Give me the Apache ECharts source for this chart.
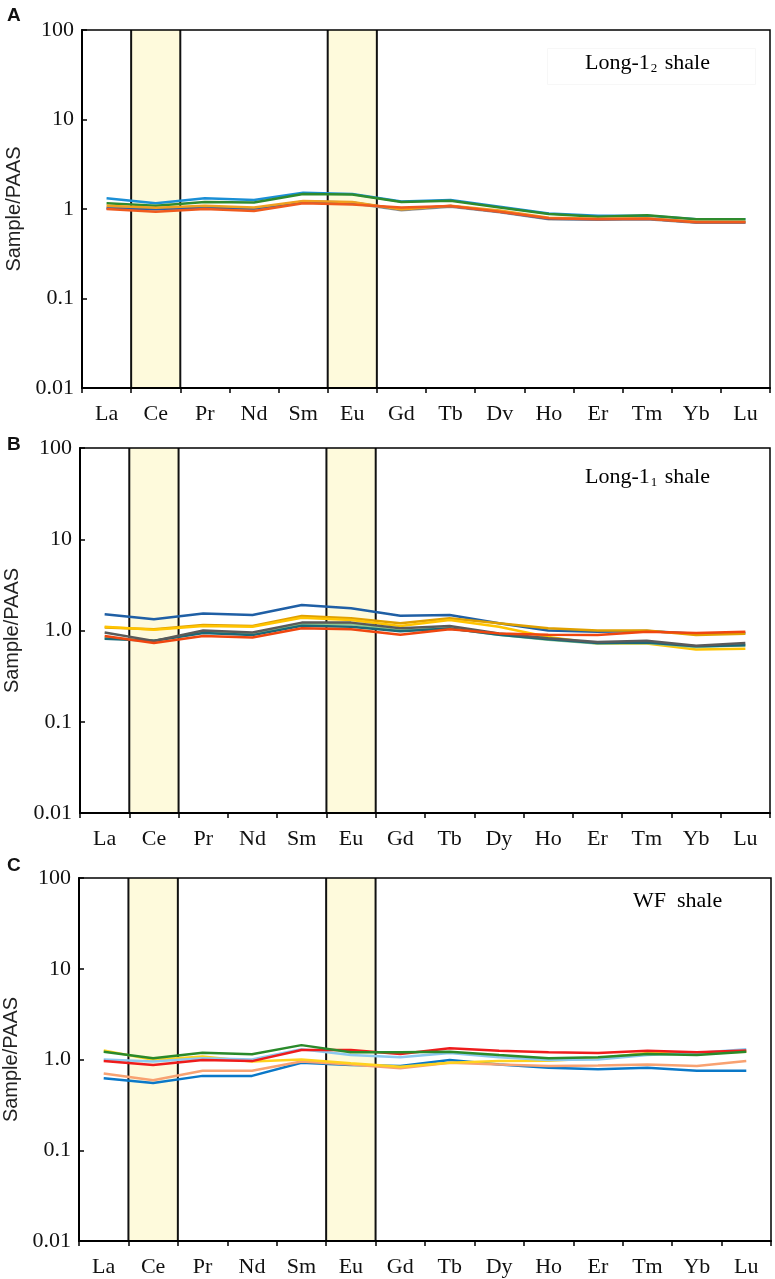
<!DOCTYPE html>
<html><head><meta charset="utf-8">
<script src="https://cdn.jsdelivr.net/npm/echarts@6/dist/echarts.min.js"></script>
<style>html,body{margin:0;padding:0;background:#fff}#c{width:775px;height:1279px}</style>
</head><body><div id="c"></div>
<script>
// ---- data ----
const catsA = ['La','Ce','Pr','Nd','Sm','Eu','Gd','Tb','Dv','Ho','Er','Tm','Yb','Lu'];
const catsBC = ['La','Ce','Pr','Nd','Sm','Eu','Gd','Tb','Dy','Ho','Er','Tm','Yb','Lu'];
const bandCats = ['Ce','Eu'];
const yTicksA = ['100','10','1','0.1','0.01'];
const yTicksBC = ['100','10','1.0','0.1','0.01'];

// Panel A (Long-1_2 shale)
const aLightBlue = [1.32,1.16,1.32,1.26,1.52,1.47,1.21,1.26,1.06,0.89,0.84,0.84,0.77,0.77];
const aGreen     = [1.16,1.09,1.20,1.18,1.47,1.45,1.20,1.24,1.04,0.88,0.82,0.85,0.77,0.77];
const aGray      = [1.03,0.99,1.03,1.00,1.18,1.16,0.97,1.06,0.92,0.77,0.76,0.77,0.70,0.70];
const aDarkBlue  = [1.01,1.00,1.04,1.01,1.21,1.18,0.99,1.08,0.93,0.78,0.77,0.78,0.71,0.71];
const aRed       = [1.00,0.93,1.00,0.95,1.16,1.12,1.04,1.08,0.93,0.79,0.77,0.78,0.71,0.71];
const aOrange    = [1.09,1.03,1.09,1.04,1.23,1.20,0.99,1.09,0.96,0.80,0.78,0.79,0.72,0.72];

// Panel B (Long-1_1 shale)
const bDarkBlue  = [1.51,1.33,1.54,1.48,1.90,1.75,1.45,1.48,1.20,1.00,0.97,0.99,0.92,0.94];
const bYellow    = [1.10,1.02,1.12,1.10,1.38,1.30,1.12,1.30,1.10,0.85,0.72,0.72,0.62,0.63];
const bGold      = [1.08,1.03,1.15,1.12,1.44,1.36,1.20,1.36,1.20,1.06,1.00,1.00,0.89,0.92];
const bLightGreen= [0.83,0.77,0.95,0.92,1.18,1.18,1.00,1.06,0.90,0.79,0.72,0.73,0.66,0.69];
const bTeal      = [0.81,0.77,0.94,0.89,1.13,1.10,0.98,1.05,0.90,0.80,0.73,0.74,0.67,0.69];
const bGray      = [0.95,0.77,1.00,0.95,1.22,1.22,1.06,1.12,0.93,0.82,0.75,0.77,0.68,0.73];
const bRed       = [0.87,0.73,0.87,0.84,1.06,1.03,0.90,1.03,0.93,0.90,0.89,0.97,0.94,0.97];

// Panel C (WF shale)
const cGreen     = [1.22,1.03,1.19,1.14,1.44,1.20,1.20,1.22,1.12,1.03,1.06,1.15,1.12,1.22];
const cLightBlue = [1.00,0.95,1.03,1.00,1.30,1.12,1.06,1.18,1.06,0.99,1.00,1.12,1.18,1.30];
const cRed       = [0.96,0.87,0.99,0.96,1.27,1.27,1.15,1.33,1.25,1.20,1.18,1.25,1.20,1.26];
const cYellow    = [1.26,0.99,1.08,0.95,1.00,0.91,0.83,0.92,0.96,0.97,1.03,1.18,1.18,1.22];
const cSalmon    = [0.70,0.59,0.75,0.75,0.95,0.88,0.80,0.92,0.88,0.85,0.86,0.88,0.85,0.96];
const cBlue      = [0.62,0.55,0.66,0.66,0.92,0.87,0.85,0.99,0.88,0.81,0.78,0.81,0.75,0.75];

const panelA = [[aLightBlue,'#1b8fd6'],[aGreen,'#2e8b2e'],[aGray,'#9a9a9a'],[aDarkBlue,'#2a5fa8'],[aOrange,'#f0a020'],[aRed,'#f05a1e']];
const panelB = [[bDarkBlue,'#1f5fa5'],[bGold,'#e0a000'],[bYellow,'#ffc400'],[bLightGreen,'#8fc98f'],[bTeal,'#1a6878'],[bGray,'#5a5a5a'],[bRed,'#f0460f']];
const panelC = [[cBlue,'#0a78c8'],[cSalmon,'#f8a272'],[cYellow,'#ffd21e'],[cLightBlue,'#8cc8f0'],[cRed,'#ee1c1c'],[cGreen,'#2a8a2a']];

// ---- chart ----
const serif = 'Liberation Serif';
const grids = [
  {left:82, top:30, right:5, height:358},
  {left:80, top:448, right:5, height:365},
  {left:79, top:878, right:4, height:363}
];
const nameGaps = [52, 51, 50];
const cats = [catsA, catsBC, catsBC];
const yTicks = [yTicksA, yTicksBC, yTicksBC];
const panels = [panelA, panelB, panelC];

const option = {
  animation:false,
  backgroundColor:'#fff',
  grid: grids.map(g => Object.assign({show:true, borderColor:'#000', borderWidth:1.5, z:5,
    backgroundColor:'transparent', containLabel:false, outerBoundsMode:'none'}, g)),
  xAxis: cats.map((c,i) => ({
    type:'category', data:c, gridIndex:i, boundaryGap:true, z:6,
    axisLine:{lineStyle:{color:'#000', width:2}},
    axisTick:{show:true, length:5, lineStyle:{color:'#000', width:1.5}},
    axisLabel:{fontFamily:serif, fontSize:22, color:'#111', margin:15},
    splitLine:{show:false}
  })),
  yAxis: yTicks.map((t,i) => ({
    type:'log', logBase:10, min:0.01, max:100, gridIndex:i, z:6,
    name:'Sample/PAAS', nameLocation:'middle', nameGap:nameGaps[i] - (i === 2 ? -2 : 0) - 4,
    nameTextStyle:{fontFamily:'Liberation Sans', fontSize:20, color:'#222'},
    axisLine:{show:true, lineStyle:{color:'#000', width:2}},
    axisTick:{show:true, inside:true, length:5, lineStyle:{color:'#000', width:1.5}},
    axisLabel:{fontFamily:serif, fontSize:22, color:'#111', margin:8,
      formatter: v => t[Math.round(2 - Math.log10(v))]},
    splitLine:{show:false}
  })),
  series: []
};

for (let i=0;i<3;i++){
  option.series.push({
    type:'custom', xAxisIndex:i, yAxisIndex:i, z:1, silent:true,
    data: bandCats.map(c => [cats[i].indexOf(c), 100]),
    renderItem:(params, api) => {
      const idx = api.value(0);
      const top = api.coord([idx, 100]);
      const bot = api.coord([idx, 0.01]);
      const w = api.size([1, 1])[0];
      const x0 = top[0] - w/2, x1 = top[0] + w/2;
      return {type:'group', children:[
        {type:'rect', shape:{x:x0, y:top[1], width:w, height:bot[1]-top[1]}, style:{fill:'#fefadc'}},
        {type:'line', shape:{x1:x0, y1:top[1], x2:x0, y2:bot[1]}, style:{stroke:'#111', lineWidth:2}},
        {type:'line', shape:{x1:x1, y1:top[1], x2:x1, y2:bot[1]}, style:{stroke:'#111', lineWidth:2}}
      ]};
    }
  });
  panels[i].forEach(([d,col]) => {
    option.series.push({
      type:'line', xAxisIndex:i, yAxisIndex:i, data:d, symbol:'none', z:3,
      lineStyle:{color:col, width:2.5}, itemStyle:{color:col}
    });
  });
}

const labelRich = {
  a:{fontFamily:serif, fontSize:22, color:'#111'},
  s:{fontFamily:serif, fontSize:13, color:'#111', padding:[11,2,0,1]}
};
option.graphic = [
  {type:'text', left:7, top:6, style:{text:'A', font:'bold 19px "Liberation Sans"', fill:'#111'}},
  {type:'text', left:7, top:435, style:{text:'B', font:'bold 19px "Liberation Sans"', fill:'#111'}},
  {type:'text', left:7, top:856, style:{text:'C', font:'bold 19px "Liberation Sans"', fill:'#111'}},
  {type:'rect', left:545, top:46, shape:{width:208, height:36}, style:{fill:'none', stroke:'#f7f7f7', lineWidth:1}},
  {type:'text', left:585, top:52, style:{text:'{a|Long-1}{s|2}{a| shale}', rich:labelRich}},
  {type:'text', left:585, top:466, style:{text:'{a|Long-1}{s|1}{a| shale}', rich:labelRich}},
  {type:'text', left:633, top:890, style:{text:'{a|WF  shale}', rich:labelRich}}
];

const chart = echarts.init(document.getElementById('c'));
chart.setOption(option);
</script>
</body></html>
